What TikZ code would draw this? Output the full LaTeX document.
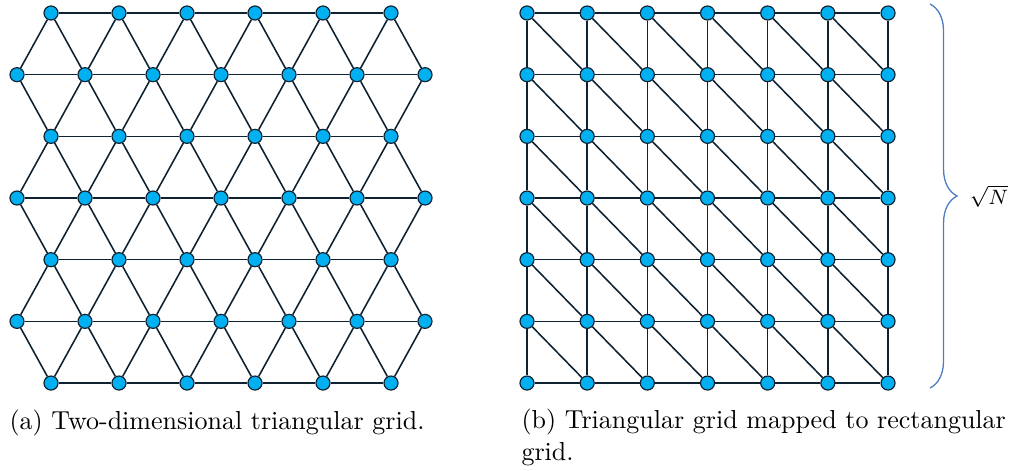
\documentclass[tikz,border=0pt]{standalone}
\usepackage{amsmath}
\usetikzlibrary{decorations.pathreplacing}
\definecolor{vertblue}{RGB}{0,176,240}
\definecolor{edgedark}{RGB}{14,34,50}
\definecolor{braceblue}{RGB}{79,126,192}

\begin{document}
\begin{tikzpicture}[
    x=0.3846pt, y=-0.3846pt,
    vert/.style={circle, draw=edgedark, fill=vertblue, line width=0.45pt, inner sep=0pt, minimum size=5.4pt},
    edge/.style={draw=edgedark, line width=0.6pt},
    captext/.style={anchor=base west, inner sep=0pt, align=left}
  ]
    \useasboundingbox (0,0) rectangle (1016,470);

    % (a) triangular grid
    \foreach \r in {0,...,6} {
      \pgfmathsetmacro\ry{13+61.67*\r}
      \ifodd\r
        \foreach \k in {0,...,6} \node[vert] (a-\r-\k) at (17+68*\k,\ry) {};
      \else
        \foreach \k in {0,...,5} \node[vert] (a-\r-\k) at (51+68*\k,\ry) {};
      \fi
    }
    \foreach \r in {0,2,4,6}
      \foreach \k in {1,...,5} {
        \pgfmathtruncatemacro\kp{\k-1}
        \draw[edge] (a-\r-\kp) -- (a-\r-\k);
      }
    \foreach \r in {1,3,5}
      \foreach \k in {1,...,6} {
        \pgfmathtruncatemacro\kp{\k-1}
        \draw[edge] (a-\r-\kp) -- (a-\r-\k);
      }
    \foreach \o/\e in {1/0,1/2,3/2,3/4,5/4,5/6}
      \foreach \k in {0,...,5} {
        \pgfmathtruncatemacro\kn{\k+1}
        \draw[edge] (a-\e-\k) -- (a-\o-\k);
        \draw[edge] (a-\e-\k) -- (a-\o-\kn);
      }

    % (b) mapped to rectangular grid
    \foreach \r in {0,...,6}
      \foreach \c in {0,...,6}
        \node[vert] (b-\r-\c) at (527+60.17*\c,13+61.67*\r) {};
    \foreach \r in {0,...,6}
      \foreach \c in {1,...,6} {
        \pgfmathtruncatemacro\cp{\c-1}
        \draw[edge] (b-\r-\cp) -- (b-\r-\c);
        \draw[edge] (b-\cp-\r) -- (b-\c-\r);
      }
    \foreach \r in {1,...,6}
      \foreach \c in {1,...,6} {
        \pgfmathtruncatemacro\rp{\r-1}
        \pgfmathtruncatemacro\cp{\c-1}
        \draw[edge] (b-\rp-\cp) -- (b-\r-\c);
      }

    % brace
    \coordinate (brtop) at (930,4);
    \coordinate (brbot) at (930,388);
    \draw[braceblue, line width=0.5pt, decorate, decoration={brace, amplitude=10.4pt}] (brtop) -- (brbot);
    \node[font=\fontsize{8pt}{9.5pt}\selectfont] (sqrtn) at (989,196) {$\sqrt{N}$};

    % captions
    \node[captext] (capa) at (9,429) {(a) Two-dimensional triangular grid.};
    \node[captext] (capb) at (521,460) {(b) Triangular grid mapped to rectangular\\grid.};
  \end{tikzpicture}
\end{document}
